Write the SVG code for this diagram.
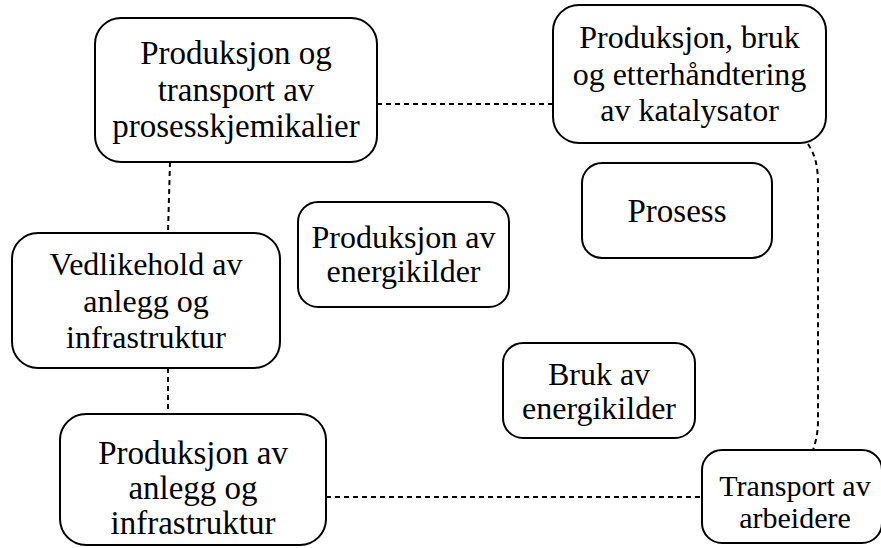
<svg xmlns="http://www.w3.org/2000/svg" width="881" height="548" viewBox="0 0 881 548">
  <style>
    .box { fill: #ffffff; stroke: #000000; stroke-width: 2; }
    .label { font-family: "Liberation Serif", "Times New Roman", serif; font-size: 32px; fill: #000000; text-anchor: middle; }
    .big { font-size: 33px; }
    .small { font-size: 30px; }
    .link { fill: none; stroke: #000000; stroke-width: 2; stroke-dasharray: 5 4; }
  </style>
  <rect x="0" y="0" width="881" height="548" fill="#ffffff"/>

  <!-- dashed connectors -->
  <g id="connectors">
    <line class="link" x1="377" y1="104" x2="553" y2="104"/>
    <line class="link" x1="170" y1="162" x2="168" y2="233"/>
    <line class="link" x1="168" y1="368" x2="168" y2="414"/>
    <line class="link" x1="326" y1="497" x2="702" y2="497"/>
    <path class="link" d="M808,144 C815,155 818,165 818,185 L818,420 C818,433 816,441 813,450"/>
  </g>

  <g id="node-kjemikalier">
    <rect class="box" x="95" y="18" width="282" height="144" rx="26"/>
    <text class="label big" x="236" y="64">Produksjon og</text>
    <text class="label big" x="236" y="101">transport av</text>
    <text class="label big" x="236" y="137">prosesskjemikalier</text>
  </g>

  <g id="node-katalysator">
    <rect class="box" x="553" y="5" width="273" height="138" rx="26"/>
    <text class="label" x="689.5" y="48">Produksjon, bruk</text>
    <text class="label" x="689.5" y="85">og etterhåndtering</text>
    <text class="label" x="689.5" y="121">av katalysator</text>
  </g>

  <g id="node-vedlikehold">
    <rect class="box" x="12" y="233" width="268" height="135" rx="26"/>
    <text class="label" x="146" y="275">Vedlikehold av</text>
    <text class="label" x="146" y="312">anlegg og</text>
    <text class="label" x="146" y="348">infrastruktur</text>
  </g>

  <g id="node-anlegg">
    <rect class="box" x="60" y="414" width="266" height="131" rx="26"/>
    <text class="label big" x="193" y="464">Produksjon av</text>
    <text class="label big" x="193" y="499">anlegg og</text>
    <text class="label big" x="193" y="534">infrastruktur</text>
  </g>

  <g id="node-energiproduksjon">
    <rect class="box" x="298" y="202" width="211" height="105" rx="20"/>
    <text class="label" x="403.5" y="248">Produksjon av</text>
    <text class="label" x="403.5" y="282">energikilder</text>
  </g>

  <g id="node-prosess">
    <rect class="box" x="582" y="163" width="190" height="95" rx="20"/>
    <text class="label big" x="677" y="222">Prosess</text>
  </g>

  <g id="node-energibruk">
    <rect class="box" x="503" y="343" width="192" height="95" rx="20"/>
    <text class="label" x="599" y="385">Bruk av</text>
    <text class="label" x="599" y="419">energikilder</text>
  </g>

  <g id="node-transport">
    <rect class="box" x="702" y="450" width="180" height="93" rx="20"/>
    <text class="label small" x="795" y="496">Transport av</text>
    <text class="label small" x="795" y="528">arbeidere</text>
  </g>
</svg>
